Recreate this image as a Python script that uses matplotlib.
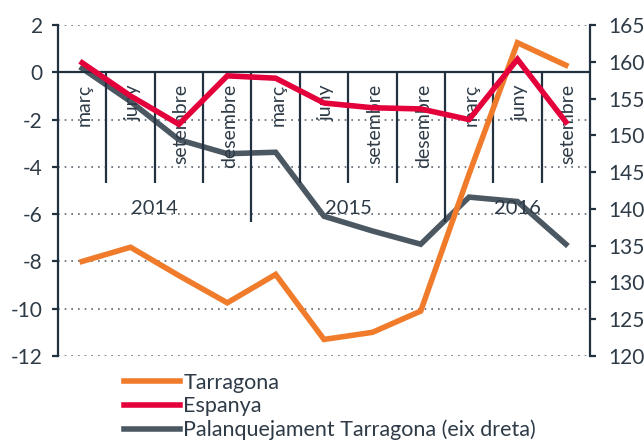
import matplotlib
matplotlib.use("Agg")
import matplotlib.pyplot as plt
from matplotlib.lines import Line2D

plt.rcParams['font.family'] = ['Lato', 'DejaVu Sans']
plt.rcParams['axes.unicode_minus'] = False

months = ["març", "juny", "setembre", "desembre",
          "març", "juny", "setembre", "desembre",
          "març", "juny", "setembre"]
years = ["2014", "2015", "2016"]
year_spans = [(0, 3), (4, 7), (8, 10)]

tarragona = [-8.0, -7.4, -8.6, -9.75, -8.55, -11.3, -11.0, -10.1, -4.3, 1.25, 0.3]
espanya = [0.4, -1.0, -2.2, -0.15, -0.25, -1.3, -1.5, -1.55, -2.0, 0.55, -2.1]
palanquejament = [159.1, 154.6, 149.4, 147.5, 147.7, 139.0, 137.0, 135.2, 141.6, 141.0, 135.2]

left_ticks = [2, 0, -2, -4, -6, -8, -10, -12]
right_ticks = [165, 160, 155, 150, 145, 140, 135, 130, 125, 120]

C_OR = "#EF7B2B"
C_RED = "#E3003B"
C_GRAY = "#4B5862"
C_AX = "#22313F"
C_TXT = "#2E3B47"
W = "normal"

fig = plt.figure(figsize=(6.44, 4.40), dpi=100)
ax = fig.add_axes([58/644, 1-356/440, (590-58)/644, (356-25)/440])
ax2 = ax.twinx()

x = list(range(len(months)))

ax.set_xlim(-0.5, len(months)-0.5)
ax.set_ylim(-12, 2)
ax2.set_ylim(120, 165)

# grid
for t in left_ticks:
    if t == 0:
        continue
    ax.axhline(t, color="#5B6670", lw=1.2, ls=(0, (1, 3)), zorder=1)
ax.axhline(0, color=C_AX, lw=1.6, zorder=2)

# category separators
for i in range(1, len(months)):
    is_year = any(i == s for s, e in year_spans)
    ax.vlines(i-0.5, 0, -6.35 if is_year else -4.7, color=C_AX, lw=1.6, zorder=2)

for i, m in enumerate(months):
    ax.text(i + 0.05, -0.5, m, rotation=90, ha="center", va="top", fontsize=14,
            color=C_TXT, fontweight=W, zorder=3)
for yl, (s, e) in zip(years, year_spans):
    ax.text((s+e)/2, -5.75, yl, ha="center", va="center", fontsize=14.5,
            color=C_TXT, fontweight=W, zorder=3)

l1, = ax.plot(x, tarragona, color=C_OR, lw=4, solid_joinstyle="miter", zorder=5)
l2, = ax.plot(x, espanya, color=C_RED, lw=4, solid_joinstyle="miter", zorder=6)
l3, = ax2.plot(x, palanquejament, color=C_GRAY, lw=4, solid_joinstyle="miter", zorder=4)
ax.set_zorder(ax2.get_zorder()+1)
ax.patch.set_visible(False)

ax.set_yticks(left_ticks)
ax.set_yticklabels([str(t) for t in left_ticks])
ax2.set_yticks(right_ticks)
ax.set_xticks([])

for a in (ax, ax2):
    for s in ("top", "bottom"):
        a.spines[s].set_visible(False)
    a.tick_params(axis="y", colors=C_AX, labelcolor=C_TXT, labelsize=15,
                  length=4, width=1.6)
ax.spines["left"].set_color(C_AX)
ax.spines["left"].set_linewidth(1.6)
ax.spines["right"].set_visible(False)
ax2.spines["left"].set_visible(False)
ax2.spines["right"].set_color(C_AX)
ax2.spines["right"].set_linewidth(1.6)
ax.tick_params(axis="y", pad=7)
ax2.tick_params(axis="y", pad=9)
for lab in ax.get_yticklabels() + ax2.get_yticklabels():
    lab.set_fontweight(W)

handles = [Line2D([], [], color=C_OR, lw=4),
           Line2D([], [], color=C_RED, lw=4),
           Line2D([], [], color=C_GRAY, lw=4)]
labels = ["Tarragona", "Espanya", "Palanquejament Tarragona (eix dreta)"]
leg = fig.legend(handles, labels, loc="upper left", bbox_to_anchor=(124/644, 1-373/440),
                 frameon=False, fontsize=15.5, handlelength=2.6, handletextpad=0.15,
                 labelspacing=0.16, borderpad=0, borderaxespad=0)
for t in leg.get_texts():
    t.set_color(C_TXT)
    t.set_fontweight(W)

fig.savefig("out.png", dpi=100)
